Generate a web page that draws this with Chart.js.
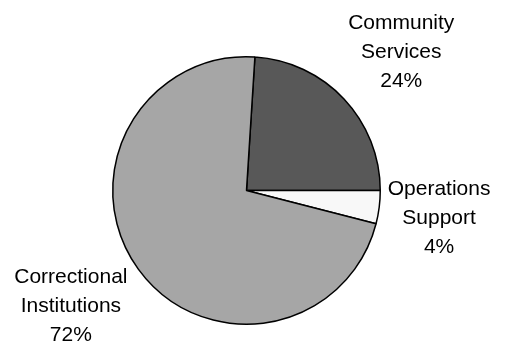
<!DOCTYPE html>
<html>
<head>
<meta charset="utf-8">
<script src="https://cdn.jsdelivr.net/npm/chart.js@4/dist/chart.umd.min.js"></script>
<style>
  html, body { margin:0; padding:0; background:#fff; }
  #wrap { width:509px; height:346px; }
</style>
</head>
<body>
<div id="wrap"><canvas id="pie"></canvas></div>
<script>
const LABELS = [['Community', 'Services'], ['Operations', 'Support'], ['Correctional', 'Institutions']];
const VALUES = [24, 4, 72];
const COLORS = ['#585858', '#f8f8f8', '#a6a6a6'];

// first-line baseline of each label, as multiples of the pie radius from its centre
const LABEL_OFFSETS = [[1.157, -1.209], [1.44, 0.03], [-1.313, 0.694]];
const LINE_H = 29;

const pieLabels = {
  id: 'pieLabels',
  afterDraw(chart) {
    const ctx = chart.ctx;
    const arc = chart.getDatasetMeta(0).data[0];
    const cx = arc.x, cy = arc.y, r = arc.outerRadius;
    ctx.save();
    ctx.fillStyle = '#000';
    ctx.font = '21px "Liberation Sans", Arial, sans-serif';
    ctx.textAlign = 'center';
    ctx.textBaseline = 'alphabetic';
    LABELS.forEach((lines, i) => {
      const x = cx + LABEL_OFFSETS[i][0] * r;
      const y = cy + LABEL_OFFSETS[i][1] * r;
      lines.concat([VALUES[i] + '%']).forEach((t, j) => ctx.fillText(t, x, y + j * LINE_H));
    });
    ctx.restore();
  }
};

new Chart(document.getElementById('pie'), {
  type: 'pie',
  data: {
    labels: LABELS.map(l => l.join(' ')),
    datasets: [{
      data: VALUES,
      backgroundColor: COLORS,
      borderColor: '#000',
      borderWidth: 1.5
    }]
  },
  options: {
    responsive: true, maintainAspectRatio: false, animation: false,
    rotation: 3.6,
    layout: { padding: { top: 56, bottom: 21, left: 112, right: 128 } },
    plugins: { legend: { display: false }, tooltip: { enabled: false } }
  },
  plugins: [pieLabels]
});
</script>
</body>
</html>
